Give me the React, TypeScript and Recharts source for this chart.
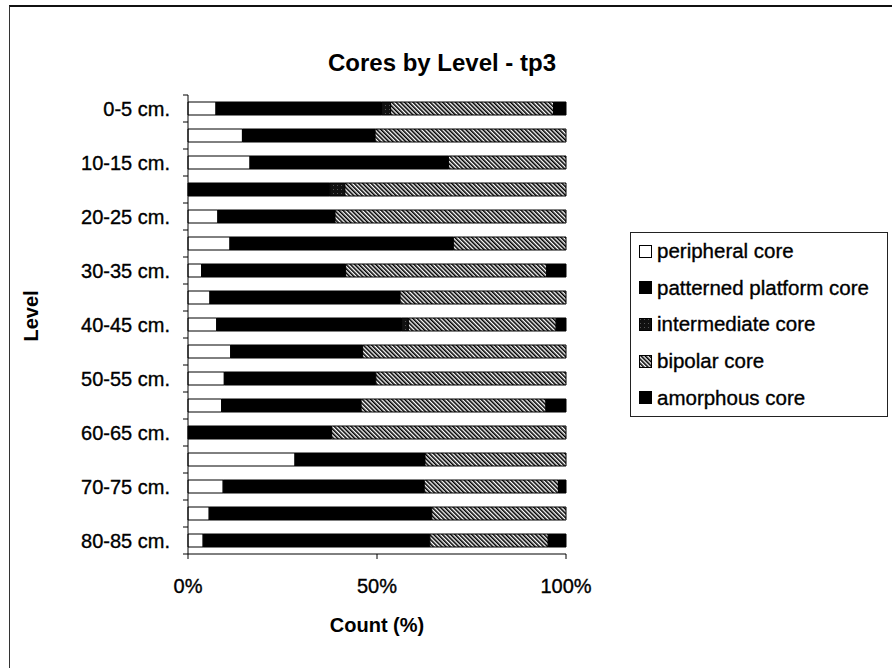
import React from "react"
import { BarChart, Bar, XAxis, YAxis } from "recharts"

const levels = [
  "0-5 cm.", "5-10 cm.", "10-15 cm.", "15-20 cm.", "20-25 cm.", "25-30 cm.",
  "30-35 cm.", "35-40 cm.", "40-45 cm.", "45-50 cm.", "50-55 cm.", "55-60 cm.",
  "60-65 cm.", "65-70 cm.", "70-75 cm.", "75-80 cm.", "80-85 cm.",
]
const peripheral = [7.4, 14.4, 16.4, 0, 7.9, 11.1, 3.6, 5.8, 7.6, 11.3, 9.6, 8.9, 0, 28.3, 9.3, 5.6, 4.0]
const patterned = [43.8, 35.1, 52.5, 37.5, 31.0, 59.1, 38.1, 50.3, 48.9, 34.9, 40.1, 36.9, 38.0, 34.4, 53.2, 58.9, 60.0]
const intermediate = [2.4, 0, 0, 4.0, 0, 0, 0, 0, 1.8, 0, 0, 0, 0, 0, 0, 0, 0]
const bipolar = [43.1, 50.5, 31.1, 58.5, 61.1, 29.8, 53.2, 43.9, 39.1, 53.8, 50.3, 48.9, 62.0, 37.3, 35.5, 35.5, 31.3]
const amorphous = [3.3, 0, 0, 0, 0, 0, 5.1, 0, 2.6, 0, 0, 5.3, 0, 0, 2.0, 0, 4.7]
const xTicks = [0, 0.5, 1]

const series = [
  { key: "peripheral", name: "peripheral core", fill: "#fff" },
  { key: "patterned", name: "patterned platform core", fill: "#000" },
  { key: "intermediate", name: "intermediate core", fill: "url(#dots)" },
  { key: "bipolar", name: "bipolar core", fill: "url(#hatch)" },
  { key: "amorphous", name: "amorphous core", fill: "#000" },
]

const data = levels.map((level, i) => ({
  level,
  peripheral: peripheral[i],
  patterned: patterned[i],
  intermediate: intermediate[i],
  bipolar: bipolar[i],
  amorphous: amorphous[i],
}))

const W = 892
const H = 668
const PLOT_LEFT = 188
const PLOT_RIGHT = 566
const PLOT_TOP = 95
const PLOT_BOTTOM = 554
const Y_AXIS_W = 100
const X_AXIS_H = 40
const FONT = "'Liberation Sans', Arial, sans-serif"
// a touch of stroke so the regular text reads as heavy as the print
const HEAVY = { WebkitTextStroke: "0.35px #000" } as React.CSSProperties

// category ticks sit on the band edges, labels on every other band
function LevelTick(props: any) {
  const { y, payload, index } = props
  const band = (PLOT_BOTTOM - PLOT_TOP) / levels.length
  const x = PLOT_LEFT
  return (
    <g>
      <line x1={x - 5} x2={x} y1={y - band / 2} y2={y - band / 2} stroke="#000" />
      {index === levels.length - 1 && (
        <line x1={x - 5} x2={x} y1={y + band / 2} y2={y + band / 2} stroke="#000" />
      )}
      {index % 2 === 0 && (
        <text x={x - 18} y={y} dy="0.36em" textAnchor="end" fontSize={20} fontFamily={FONT} fill="#000" stroke="#000" strokeWidth={0.35}>
          {payload.value}
        </text>
      )}
    </g>
  )
}

function Swatch({ fill }: { fill: string }) {
  return (
    <svg width={13} height={13} style={{ display: "block", flex: "none" }}>
      <rect x={0.5} y={0.5} width={12} height={12} fill={fill} stroke="#000" />
    </svg>
  )
}

export default function App() {
  return (
    <div style={{ position: "absolute", left: 0, top: 0, width: W, height: H, background: "#fff", fontFamily: FONT }}>
      <svg width={0} height={0} style={{ position: "absolute" }}>
        <defs>
          <pattern id="hatch" width={3} height={3} patternUnits="userSpaceOnUse" patternTransform="rotate(-45)">
            <rect width={3} height={3} fill="#fff" />
            <rect width={1.6} height={3} fill="#000" />
          </pattern>
          <pattern id="dots" width={4} height={4} patternUnits="userSpaceOnUse">
            <rect width={4} height={4} fill="#111" />
            <rect x={1} y={1} width={1} height={1} fill="#555" />
          </pattern>
        </defs>
      </svg>

      {/* chart area frame */}
      <div style={{ position: "absolute", left: 9, top: 5, width: W, height: H, borderLeft: "1.5px solid #333", borderTop: "2px solid #111" }} />

      <div style={{ position: "absolute", left: 0, width: 884, top: 49, textAlign: "center", fontSize: 24, fontWeight: "bold" }}>
        Cores by Level - tp3
      </div>

      <BarChart
        width={W}
        height={H}
        data={data}
        layout="vertical"
        stackOffset="expand"
        barSize={13}
        margin={{ top: PLOT_TOP, right: W - PLOT_RIGHT, bottom: H - PLOT_BOTTOM - X_AXIS_H, left: PLOT_LEFT - Y_AXIS_W }}
        style={{ position: "absolute", left: 0, top: 0 }}
      >
        <XAxis
          type="number"
          domain={[0, 1]}
          ticks={xTicks}
          height={X_AXIS_H}
          tickFormatter={(v: number) => `${Math.round(v * 100)}%`}
          axisLine={{ stroke: "#000" }}
          tickLine={{ stroke: "#000" }}
          tickSize={5}
          tickMargin={20}
          tick={{ fill: "#000", fontSize: 20, fontFamily: FONT, stroke: "#000", strokeWidth: 0.35 }}
        />
        <YAxis
          type="category"
          dataKey="level"
          width={Y_AXIS_W}
          interval={0}
          axisLine={{ stroke: "#000" }}
          tickLine={false}
          tickSize={0}
          tickMargin={0}
          tick={<LevelTick />}
        />
        {series.map((s) => (
          <Bar
            key={s.key}
            dataKey={s.key}
            name={s.name}
            stackId="a"
            fill={s.fill}
            stroke="#000"
            strokeWidth={1}
            isAnimationActive={false}
          />
        ))}
      </BarChart>

      <div style={{ position: "absolute", left: 31, top: 316, transform: "translate(-50%, -50%) rotate(-90deg)", fontSize: 20, fontWeight: "bold" }}>
        Level
      </div>
      <div style={{ position: "absolute", left: PLOT_LEFT, width: PLOT_RIGHT - PLOT_LEFT, top: 614, textAlign: "center", fontSize: 20, fontWeight: "bold" }}>
        Count (%)
      </div>

      <div
        style={{
          position: "absolute",
          left: 630,
          top: 232,
          width: 258,
          height: 185,
          border: "1px solid #222",
          boxSizing: "border-box",
          padding: "0 0 0 8px",
          display: "flex",
          flexDirection: "column",
          justifyContent: "space-around",
        }}
      >
        {series.map((s) => (
          <div key={s.key} style={{ display: "flex", alignItems: "center", fontSize: 20.5, whiteSpace: "nowrap", ...HEAVY }}>
            <Swatch fill={s.fill} />
            <span style={{ marginLeft: 5 }}>{s.name}</span>
          </div>
        ))}
      </div>
    </div>
  )
}
